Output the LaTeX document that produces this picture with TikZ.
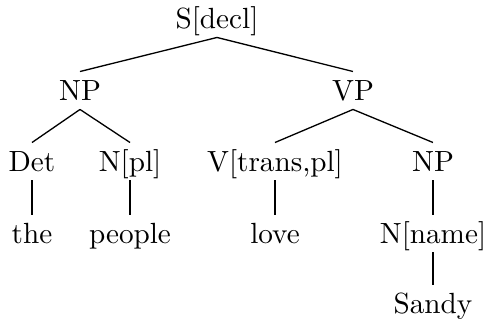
\documentclass[tikz,border=0pt]{standalone}
\begin{document}
\begin{tikzpicture}[x=0.3425pt,y=-0.3425pt,
  lbl/.style={inner sep=0pt, text height=9.9pt, text depth=2.7pt, anchor=base, font=\fontsize{10}{12}\selectfont},
  br/.style={line width=0.45pt}]
\useasboundingbox (0,0) rectangle (489,321);
\node[lbl] (S) at (217,29) {S[decl]};
\node[lbl] (NP1) at (80,101) {NP};
\node[lbl] (VP) at (353,101) {VP};
\node[lbl] (Det) at (32,172) {Det};
\node[lbl] (Npl) at (130,172) {N[pl]};
\node[lbl] (V) at (275,172) {V[trans,pl]};
\node[lbl] (NP2) at (433,172) {NP};
\node[lbl] (the) at (32,244) {the};
\node[lbl] (people) at (130,244) {people};
\node[lbl] (love) at (275,244) {love};
\node[lbl] (Nname) at (433,244) {N[name]};
\node[lbl] (Sandy) at (433,314) {Sandy};
\draw[br] (S.south) -- (NP1.north);
\draw[br] (S.south) -- (VP.north);
\draw[br] (NP1.south) -- (Det.north);
\draw[br] (NP1.south) -- (Npl.north);
\draw[br] (VP.south) -- (V.north);
\draw[br] (VP.south) -- (NP2.north);
\draw[br] (Det.south) -- (the.north);
\draw[br] (Npl.south) -- (people.north);
\draw[br] (V.south) -- (love.north);
\draw[br] (NP2.south) -- (Nname.north);
\draw[br] (Nname.south) -- (Sandy.north);
\end{tikzpicture}
\end{document}
